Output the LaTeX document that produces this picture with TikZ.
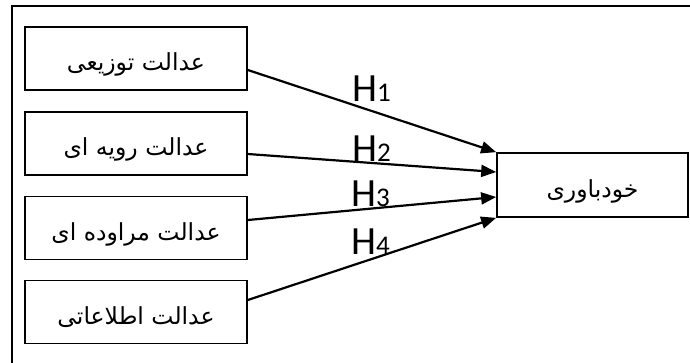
\documentclass[tikz,border=0pt]{standalone}
\usepackage{fontspec}
\usetikzlibrary{arrows.meta}
\TeXXeTstate=1
\setmainfont{Carlito}
\newfontfamily\arabicfont[Script=Arabic]{DejaVu Sans}
\tikzset{
  varbox/.style={draw,line width=1.7pt,minimum width=222pt,minimum height=63pt,
    inner sep=0pt,text height=24pt,text depth=0pt,
    font=\arabicfont\fontsize{23.5}{28}\selectfont},
  hyp/.style={-{Triangle[length=15pt,width=12pt]},line width=2.2pt},
  hlab/.style={anchor=base west,inner sep=0pt}
}
\newcommand\hname[1]{{\fontsize{40}{40}\selectfont H}{\fontsize{27}{27}\selectfont #1}}
\newcommand\fatext[1]{\beginR #1\endR}
\begin{document}
\begin{tikzpicture}[x=1pt,y=-1pt]
        \useasboundingbox (0,0) rectangle (690,362);
        \clip (0,0) rectangle (690,362);
        \draw[line width=1.7pt] (12,6) rectangle (700,380);
        \node[varbox] (d1) at (136,58.5) {\fatext{عدالت توزیعی}};
        \node[varbox] (d2) at (136,143.5) {\fatext{عدالت رویه ای}};
        \node[varbox] (d3) at (136,228) {\fatext{عدالت مراوده ای}};
        \node[varbox] (d4) at (136,312) {\fatext{عدالت اطلاعاتی}};
        \node[varbox,minimum width=191pt,minimum height=64pt] (out) at (592.5,185) {\fatext{خودباوری}};
        \draw[hyp] ([yshift=-11.5pt]d1.east) -- (out.north west);
        \draw[hyp] ([yshift=-10.5pt]d2.east) -- ([yshift=13pt]out.west);
        \draw[hyp] ([yshift=8pt]d3.east) -- ([yshift=-12pt]out.west);
        \draw[hyp] ([yshift=12pt]d4.east) -- (out.south west);
        \node[hlab] (h1) at (352,101) {\hname{1}};
        \node[hlab] (h2) at (352,161) {\hname{2}};
        \node[hlab] (h3) at (351,206) {\hname{3}};
        \node[hlab] (h4) at (351,254) {\hname{4}};
\end{tikzpicture}
\end{document}
